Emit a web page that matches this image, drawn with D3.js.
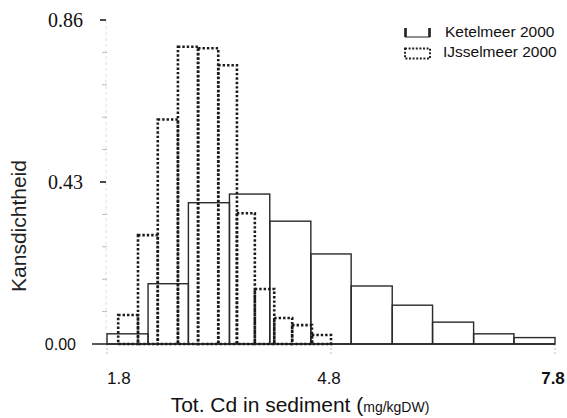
<!DOCTYPE html>
<html>
<head>
<meta charset="utf-8">
<script src="https://cdn.jsdelivr.net/npm/d3@7"></script>
<style>
  html, body { margin: 0; padding: 0; background: #fff; }
  svg { display: block; }
</style>
</head>
<body>
<svg id="chart" width="567" height="418"></svg>
<script>
// ---- data ----
const ketelEdges = [1.8, 2.35, 2.89, 3.44, 3.98, 4.53, 5.07, 5.62, 6.16, 6.71, 7.25, 7.8];
const ketelDensity = [0.027, 0.16, 0.375, 0.398, 0.326, 0.239, 0.154, 0.103, 0.058, 0.027, 0.017];
const ijsselEdges = [1.95, 2.215, 2.48, 2.75, 3.02, 3.29, 3.54, 3.78, 4.04, 4.28, 4.545, 4.8];
const ijsselDensity = [0.077, 0.289, 0.596, 0.789, 0.785, 0.74, 0.347, 0.146, 0.069, 0.05, 0.024];
const yTickValues = [0.00, 0.43, 0.86];
const yTickLabels = ["0.00", "0.43", "0.86"];
const yMinorTicks = [0.086, 0.172, 0.258, 0.344, 0.516, 0.602, 0.688, 0.774];
const xTickValues = [1.8, 4.8, 7.8];
const xTickLabels = ["1.8", "4.8", "7.8"];
const seriesNames = ["Ketelmeer 2000", "IJsselmeer 2000"];

// ---- scales ----
const svg = d3.select("#chart");
const x = d3.scaleLinear().domain([1.8, 7.8]).range([107, 555]);
const y = d3.scaleLinear().domain([0, 0.86]).range([344, 20]);

// y axis (faint)
svg.append("line")
  .attr("x1", 106).attr("x2", 106)
  .attr("y1", y(0.86)).attr("y2", y(0))
  .attr("stroke", "#ddd").attr("stroke-width", 1).attr("stroke-dasharray", "3,3");

svg.selectAll(".minor").data(yMinorTicks).enter().append("line")
  .attr("x1", 102).attr("x2", 107)
  .attr("y1", d => y(d)).attr("y2", d => y(d))
  .attr("stroke", "#bbb").attr("stroke-width", 1);

svg.selectAll(".major").data(yTickValues.filter(v => v > 0)).enter().append("line")
  .attr("x1", 100).attr("x2", 106)
  .attr("y1", d => y(d)).attr("y2", d => y(d))
  .attr("stroke", "#111").attr("stroke-width", 1.5);

// y tick labels
svg.selectAll(".ylab").data(yTickValues).enter().append("text")
  .attr("x", (d, i) => i === 0 ? 76 : 83)
  .attr("y", d => y(d))
  .attr("dy", "0.35em")
  .attr("text-anchor", "end")
  .attr("font-family", (d, i) => i === 0 ? "Liberation Sans, Arial, sans-serif" : "Liberation Serif, Times New Roman, serif")
  .attr("font-size", (d, i) => i === 0 ? 16 : 20)
  .attr("fill", "#111")
  .text((d, i) => yTickLabels[i]);

// x tick marks (faint, downward)
svg.selectAll(".xt").data(xTickValues).enter().append("line")
  .attr("x1", d => x(d)).attr("x2", d => x(d))
  .attr("y1", y(0)).attr("y2", y(0) + 12)
  .attr("stroke", "#bbb").attr("stroke-width", 1).attr("stroke-dasharray", "2,2");

// x tick labels
svg.selectAll(".xlab").data(xTickValues).enter().append("text")
  .attr("x", (d, i) => i === 0 ? x(d) : x(d) - 2)
  .attr("y", 384)
  .attr("text-anchor", (d, i) => i === 0 ? "start" : "middle")
  .attr("font-family", "Liberation Sans, Arial, sans-serif")
  .attr("font-size", 17)
  .attr("font-weight", (d, i) => i === 2 ? "bold" : "normal")
  .attr("fill", "#111")
  .text((d, i) => xTickLabels[i]);

// bins
const ketelBins = ketelDensity.map((v, i) => ({ x0: ketelEdges[i], x1: ketelEdges[i + 1], v }));
const ijsselBins = ijsselDensity.map((v, i) => ({ x0: ijsselEdges[i], x1: ijsselEdges[i + 1], v }));

svg.selectAll(".ketel").data(ketelBins).enter().append("rect")
  .attr("x", d => x(d.x0)).attr("width", d => x(d.x1) - x(d.x0))
  .attr("y", d => y(d.v)).attr("height", d => y(0) - y(d.v))
  .attr("fill", "none").attr("stroke", "#2a2a2a").attr("stroke-width", 1.4);

svg.selectAll(".ijssel").data(ijsselBins).enter().append("rect")
  .attr("x", d => x(d.x0)).attr("width", d => x(d.x1) - x(d.x0))
  .attr("y", d => y(d.v)).attr("height", d => y(0) - y(d.v))
  .attr("fill", "none").attr("stroke", "#1a1a1a").attr("stroke-width", 2.6)
  .attr("stroke-dasharray", "2.4,2");

// baseline
svg.append("line")
  .attr("x1", 92).attr("x2", x(7.8))
  .attr("y1", y(0)).attr("y2", y(0))
  .attr("stroke", "#222").attr("stroke-width", 1.5);

// axis titles
svg.append("text")
  .attr("transform", "translate(26,226) rotate(-90)")
  .attr("text-anchor", "middle")
  .attr("font-family", "Liberation Sans, Arial, sans-serif")
  .attr("font-size", 21)
  .attr("fill", "#222")
  .text("Kansdichtheid");

const xt = svg.append("text")
  .attr("x", 300).attr("y", 412)
  .attr("text-anchor", "middle")
  .attr("font-family", "Liberation Sans, Arial, sans-serif")
  .attr("font-size", 21)
  .attr("fill", "#111");
xt.append("tspan").text("Tot. Cd in sediment (");
xt.append("tspan").attr("font-size", 14).text("mg/kgDW)");

// legend
const lg = svg.append("g");
lg.append("path").attr("d", "M405.5,28 V37 H429.5 V28")
  .attr("fill", "none").attr("stroke", "#222").attr("stroke-width", 1.2);
lg.append("line").attr("x1", 405.5).attr("x2", 405.5).attr("y1", 28).attr("y2", 37)
  .attr("stroke", "#222").attr("stroke-width", 2.6);
lg.append("line").attr("x1", 429.5).attr("x2", 429.5).attr("y1", 28).attr("y2", 37)
  .attr("stroke", "#222").attr("stroke-width", 2.6);
lg.append("rect").attr("x", 405).attr("y", 48.5).attr("width", 25).attr("height", 10)
  .attr("fill", "none").attr("stroke", "#222").attr("stroke-width", 2)
  .attr("stroke-dasharray", "2,1.6");
lg.selectAll(".lt").data(seriesNames).enter().append("text")
  .attr("x", (d, i) => i === 0 ? 445 : 443)
  .attr("y", (d, i) => i === 0 ? 37 : 57)
  .attr("font-family", "Liberation Sans, Arial, sans-serif")
  .attr("font-size", 15.5)
  .attr("fill", "#111")
  .text(d => d);
</script>
</body>
</html>
